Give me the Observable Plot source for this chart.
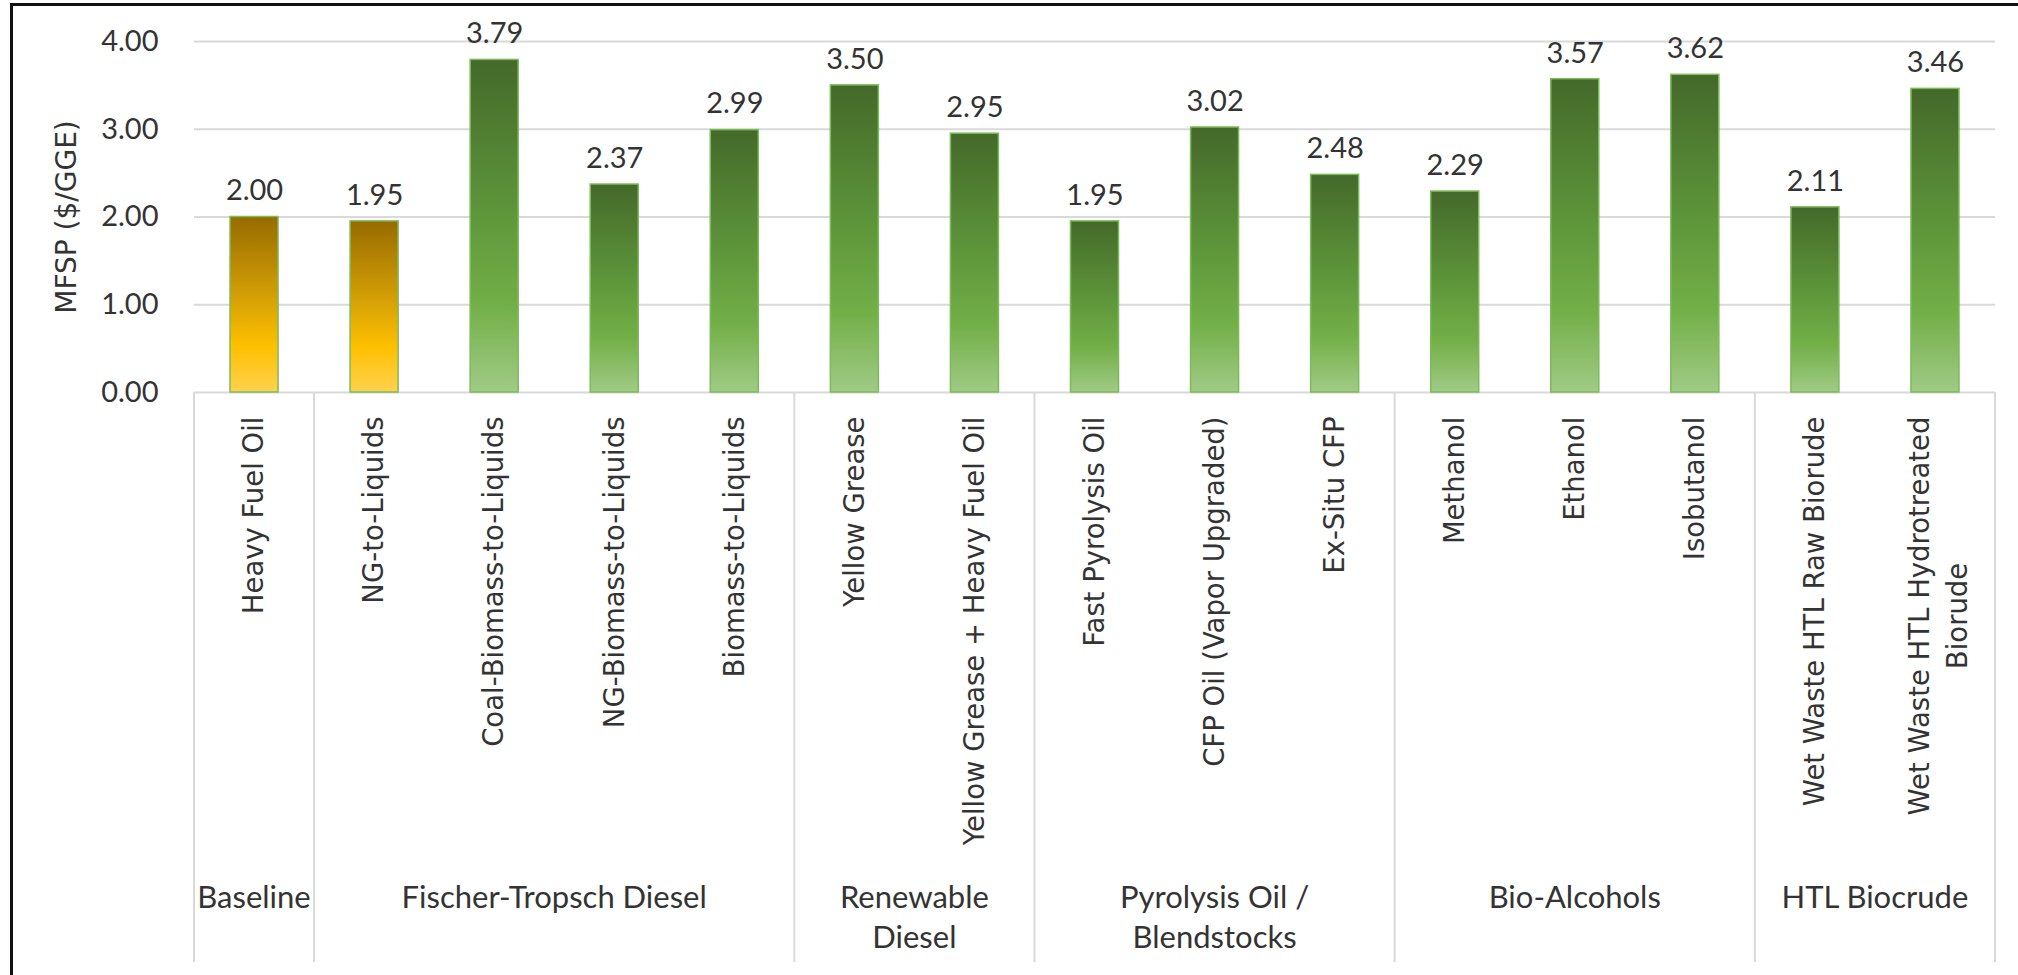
<!DOCTYPE html>
<html>
<head>
<meta charset="utf-8">
<script src="https://cdn.jsdelivr.net/npm/d3@7"></script>
<script src="https://cdn.jsdelivr.net/npm/@observablehq/plot@0.6"></script>
<style>
  html, body { margin: 0; padding: 0; background: #fff; }
  #chart { position: relative; width: 2018px; height: 975px; overflow: hidden; background: #fff; }
  #chart svg { position: absolute; left: 0; top: 0; }
  #frame {
    position: absolute; left: 10px; top: 3px; width: 2100px; height: 1100px;
    border-left: 3px solid #111; border-top: 3px solid #111; pointer-events: none;
  }
</style>
</head>
<body>
<div id="chart"><div id="frame"></div></div>
<script>
// Minimum fuel selling price by production pathway
const pathways = [
  "Heavy Fuel Oil",
  "NG-to-Liquids",
  "Coal-Biomass-to-Liquids",
  "NG-Biomass-to-Liquids",
  "Biomass-to-Liquids",
  "Yellow Grease",
  "Yellow Grease + Heavy Fuel Oil",
  "Fast Pyrolysis Oil",
  "CFP Oil (Vapor Upgraded)",
  "Ex-Situ CFP",
  "Methanol",
  "Ethanol",
  "Isobutanol",
  "Wet Waste HTL Raw Biorude",
  "Wet Waste HTL Hydrotreated\nBiorude"
];
const mfsp = [2.00, 1.95, 3.79, 2.37, 2.99, 3.50, 2.95, 1.95, 3.02, 2.48, 2.29, 3.57, 3.62, 2.11, 3.46];
const feedstock = ["fossil", "fossil", "bio", "bio", "bio", "bio", "bio", "bio", "bio", "bio", "bio", "bio", "bio", "bio", "bio"];

// Fuel families along the category axis, with the number of pathways in each
const families = ["Baseline", "Fischer-Tropsch Diesel", "Renewable\nDiesel", "Pyrolysis Oil /\nBlendstocks", "Bio-Alcohols", "HTL Biocrude"];
const familySizes = [1, 4, 2, 3, 3, 2];

const yTicks = [0, 1, 2, 3, 4];
const yLabel = "MFSP ($/GGE)";

const rows = pathways.map((name, i) => ({name, value: mfsp[i], kind: feedstock[i]}));

const SVGNS = "http://www.w3.org/2000/svg";
const ink = "#333";
const numFont = "Lato, 'Open Sans', sans-serif";
const catFont = "'DejaVu Sans', Verdana, sans-serif";
const catSize = 27.5;
const catGap = 24; // space between the zero line and the rotated labels

// Vertical gradients used to fill the bars
function gradients() {
  const defs = document.createElementNS(SVGNS, "defs");
  const specs = {
    "fill-fossil": [[0, "#976b00"], [0.45, "#d39f06"], [0.74, "#ffc000"], [1, "#ffd24f"]],
    "fill-bio": [[0, "#44692a"], [0.45, "#5d953a"], [0.74, "#72af47"], [1, "#a0cb86"]]
  };
  for (const [id, stops] of Object.entries(specs)) {
    const lg = document.createElementNS(SVGNS, "linearGradient");
    lg.setAttribute("id", id);
    lg.setAttribute("x1", "0"); lg.setAttribute("y1", "0");
    lg.setAttribute("x2", "0"); lg.setAttribute("y2", "1");
    for (const [o, c] of stops) {
      const s = document.createElementNS(SVGNS, "stop");
      s.setAttribute("offset", o);
      s.setAttribute("stop-color", c);
      lg.appendChild(s);
    }
    defs.appendChild(lg);
  }
  return defs;
}

// Family separators and family names below the rotated pathway labels
function familyAxis(index, scales, values, dimensions) {
  const x = scales.x, y = scales.y;
  const bw = x.bandwidth ? x.bandwidth() : 0;
  const step = x.step ? x.step() : (x(pathways[1]) - x(pathways[0]));
  const half = (step - bw) / 2;
  const y0 = y(0);
  const yEnd = dimensions.height - 13;
  const g = document.createElementNS(SVGNS, "g");
  const edges = [];
  let k = 0;
  familySizes.forEach((n) => {
    const left = x(pathways[k]) - half;
    const right = x(pathways[k + n - 1]) + bw + half;
    edges.push([left, right]);
    k += n;
  });
  const xs = [edges[0][0], ...edges.map(e => e[1])];
  for (const px of xs) {
    const l = document.createElementNS(SVGNS, "line");
    l.setAttribute("x1", px); l.setAttribute("x2", px);
    l.setAttribute("y1", y0); l.setAttribute("y2", yEnd);
    l.setAttribute("stroke", "#d9d9d9");
    l.setAttribute("stroke-width", 2);
    g.appendChild(l);
  }
  families.forEach((name, i) => {
    const [a, b] = edges[i];
    const t = document.createElementNS(SVGNS, "text");
    t.setAttribute("text-anchor", "middle");
    t.setAttribute("font-family", numFont);
    t.setAttribute("font-size", 31);
    t.setAttribute("fill", ink);
    name.split("\n").forEach((line, j) => {
      const ts = document.createElementNS(SVGNS, "tspan");
      ts.setAttribute("x", (a + b) / 2);
      ts.setAttribute("y", y0 + 516 + j * 40);
      ts.textContent = line;
      t.appendChild(ts);
    });
    g.appendChild(t);
  });
  return g;
}

// Width of a label line, used to center wrapped labels on their longest line
const ctx = document.createElement("canvas").getContext("2d");
ctx.font = `${catSize}px "DejaVu Sans"`;
const lineWidth = (s) => Math.max(...s.split("\n").map(l => ctx.measureText(l).width));

const single = rows.filter(d => !d.name.includes("\n"));
const wrapped = rows.filter(d => d.name.includes("\n"));

const catCommon = {
  x: "name", text: "name", frameAnchor: "bottom", rotate: -90,
  lineAnchor: "middle", fontSize: catSize, fontFamily: catFont, fill: ink
};

const chart = Plot.plot({
  width: 2018,
  height: 975,
  marginLeft: 194,
  marginRight: 23,
  marginTop: 41,
  marginBottom: 583,
  style: {background: "transparent", overflow: "visible"},
  x: {type: "band", domain: pathways, paddingInner: 0.6, paddingOuter: 0.3, round: false, axis: null},
  y: {domain: [0, 4], axis: null},
  marks: [
    gradients,
    Plot.ruleY(yTicks, {stroke: "#d9d9d9", strokeWidth: 2}),
    familyAxis,
    Plot.barY(rows.filter(d => d.kind === "fossil"), {x: "name", y: "value", fill: "url(#fill-fossil)", stroke: "#7dbb58", strokeWidth: 1.5}),
    Plot.barY(rows.filter(d => d.kind === "bio"), {x: "name", y: "value", fill: "url(#fill-bio)", stroke: "#7dbb58", strokeWidth: 1.5}),
    Plot.text(rows, {x: "name", y: "value", text: d => d.value.toFixed(2), dy: -26, lineAnchor: "middle", fontSize: 29, fontFamily: numFont, fill: ink}),
    Plot.text(single, {...catCommon, dy: catGap, textAnchor: "end"}),
    ...wrapped.map(d => Plot.text([d], {...catCommon, dy: catGap + lineWidth(d.name) / 2, textAnchor: "middle", lineHeight: 1.4})),
    Plot.text(yTicks, {y: d => d, text: d => d.toFixed(2), frameAnchor: "left", dx: -36, textAnchor: "end", lineAnchor: "middle", fontSize: 29, fontFamily: numFont, fill: ink}),
    Plot.text([yLabel], {frameAnchor: "left", dx: -127, rotate: -90, textAnchor: "middle", lineAnchor: "middle", fontSize: 28, fontFamily: catFont, fill: ink})
  ]
});

document.getElementById("chart").insertBefore(chart, document.getElementById("frame"));
</script>
</body>
</html>
